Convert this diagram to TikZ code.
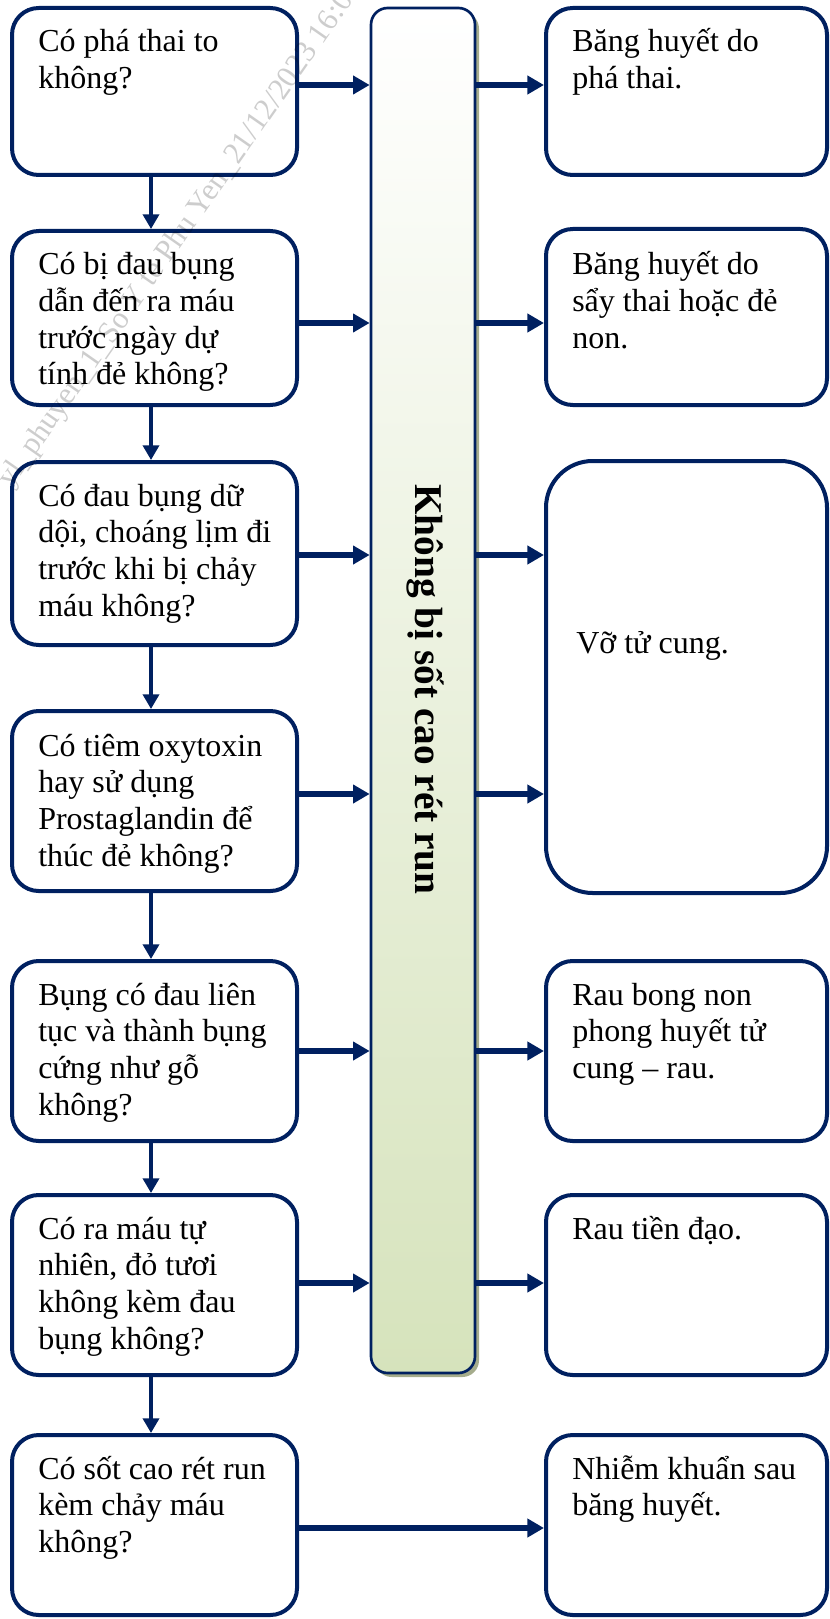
\documentclass[tikz,border=0pt]{standalone}
\usepackage{fontspec}
\setmainfont{Liberation Serif}
\usetikzlibrary{arrows.meta,shadows}

\definecolor{navy}{RGB}{0,32,96}
\definecolor{barGreen}{RGB}{214,227,188}
\definecolor{barShadow}{RGB}{165,172,140}
\definecolor{stampGray}{RGB}{205,205,205}

% left-aligned paragraph whose baseline is its first line
\newcommand\boxtext[1]{\parbox[t]{300pt}{\raggedright #1}}

\begin{document}
\begin{tikzpicture}[x=0.75pt,y=-0.75pt,
  sz/.style 2 args={minimum width=#1*0.75pt, minimum height=#2*0.75pt},
  qbox/.style={draw=navy, line width=3pt, fill=white, rounded corners=20pt, inner sep=0pt},
  txt/.style={anchor=base west, inner sep=0pt, font=\fontsize{24pt}{27.5pt}\selectfont},
  harrow/.style={draw=navy, line width=4.1pt, -{Triangle[length=12.5pt,width=13.5pt]}},
  varrow/.style={draw=navy, line width=2.6pt, -{Triangle[length=11pt,width=12pt]}},
  stamp/.style={rotate=55, inner sep=0pt, text=stampGray, font=\fontsize{23pt}{26pt}\selectfont}
]
\useasboundingbox (0,0) rectangle (830,1619);

% central bar
\node[draw=navy, line width=2pt, rounded corners=12.5pt, top color=white, bottom color=barGreen,
      drop shadow={shadow xshift=3pt, shadow yshift=-3pt, fill=barShadow, opacity=1},
      sz={104}{1365}] (bar) at (423,690.5) {};
\node[rotate=-90, inner sep=0pt, font=\fontsize{29.5pt}{33pt}\selectfont\bfseries] (barlabel) at (425,689) {Không bị sốt cao rét run};

% question boxes (left column)
\node[qbox, sz={285}{167}] (L1) at (154.5,91.5) {};
\node[qbox, sz={285}{174}] (L2) at (154.5,318) {};
\node[qbox, sz={285}{183}] (L3) at (154.5,553.5) {};
\node[qbox, sz={285}{180}] (L4) at (154.5,801) {};
\node[qbox, sz={285}{180}] (L5) at (154.5,1051) {};
\node[qbox, sz={285}{180}] (L6) at (154.5,1285) {};
\node[qbox, sz={285}{180}] (L7) at (154.5,1525) {};

% diagnosis boxes (right column)
\node[qbox, sz={281}{167}] (R1) at (686.5,91.5) {};
\node[qbox, sz={281}{176}] (R2) at (686.5,317) {};
\node[qbox, rounded corners=35pt, sz={281}{432}] (R3) at (686.5,677) {};
\node[qbox, sz={281}{180}] (R4) at (686.5,1051) {};
\node[qbox, sz={281}{180}] (R5) at (686.5,1285) {};
\node[qbox, sz={281}{180}] (R6) at (686.5,1525) {};

% watermark
\begin{scope}[blend mode=multiply]
\node[stamp, anchor=base west] (stampB) at (238,166) {21/12/2023 16:0};
\node[stamp, anchor=base east] (stampA) at (238,166) {yl\_phuyen\_1\_So Y te Phu Yen\_};
\end{scope}

% texts
\node[txt] (L1t) at (38,52)   {\boxtext{Có phá thai to\\không?}};
\node[txt] (L2t) at (38,275)  {\boxtext{Có bị đau bụng\\dẫn đến ra máu\\trước ngày dự\\tính đẻ không?}};
\node[txt] (L3t) at (38,506)  {\boxtext{Có đau bụng dữ\\dội, choáng lịm đi\\trước khi bị chảy\\máu không?}};
\node[txt] (L4t) at (38,756)  {\boxtext{Có tiêm oxytoxin\\hay sử dụng\\Prostaglandin để\\thúc đẻ không?}};
\node[txt] (L5t) at (38,1005) {\boxtext{Bụng có đau liên\\tục và thành bụng\\cứng như gỗ\\không?}};
\node[txt] (L6t) at (38,1239) {\boxtext{Có ra máu tự\\nhiên, đỏ tươi\\không kèm đau\\bụng không?}};
\node[txt] (L7t) at (38,1479) {\boxtext{Có sốt cao rét run\\kèm chảy máu\\không?}};

\node[txt] (R1t) at (572,52)   {\boxtext{Băng huyết do\\phá thai.}};
\node[txt] (R2t) at (572,275)  {\boxtext{Băng huyết do\\sẩy thai hoặc đẻ\\non.}};
\node[txt] (R3t) at (576,653)  {\boxtext{Vỡ tử cung.}};
\node[txt] (R4t) at (572,1005) {\boxtext{Rau bong non\\phong huyết tử\\cung – rau.}};
\node[txt] (R5t) at (572,1239) {\boxtext{Rau tiền đạo.}};
\node[txt] (R6t) at (572,1479) {\boxtext{Nhiễm khuẩn sau\\băng huyết.}};

% arrow rows
\coordinate (r1) at (0,85);
\coordinate (r2) at (0,323);
\coordinate (r3) at (0,555);
\coordinate (r4) at (0,794);
\coordinate (r5) at (0,1051);
\coordinate (r6) at (0,1283);
\coordinate (r7) at (0,1528);
\coordinate (vx) at (151,0);

% questions into the bar
\draw[harrow] (L1.east |- r1) -- (bar.west |- r1);
\draw[harrow] (L2.east |- r2) -- (bar.west |- r2);
\draw[harrow] (L3.east |- r3) -- (bar.west |- r3);
\draw[harrow] (L4.east |- r4) -- (bar.west |- r4);
\draw[harrow] (L5.east |- r5) -- (bar.west |- r5);
\draw[harrow] (L6.east |- r6) -- (bar.west |- r6);

% bar to diagnoses
\draw[harrow] (bar.east |- r1) -- (R1.west |- r1);
\draw[harrow] (bar.east |- r2) -- (R2.west |- r2);
\draw[harrow] (bar.east |- r3) -- (R3.west |- r3);
\draw[harrow] (bar.east |- r4) -- (R3.west |- r4);
\draw[harrow] (bar.east |- r5) -- (R4.west |- r5);
\draw[harrow] (bar.east |- r6) -- (R5.west |- r6);

% fever case goes straight across
\draw[harrow] (L7.east |- r7) -- (R6.west |- r7);

% chain of questions
\draw[varrow] (L1.south -| vx) -- (L2.north -| vx);
\draw[varrow] (L2.south -| vx) -- (L3.north -| vx);
\draw[varrow] (L3.south -| vx) -- (L4.north -| vx);
\draw[varrow] (L4.south -| vx) -- (L5.north -| vx);
\draw[varrow] (L5.south -| vx) -- (L6.north -| vx);
\draw[varrow] (L6.south -| vx) -- (L7.north -| vx);
\end{tikzpicture}
\end{document}
